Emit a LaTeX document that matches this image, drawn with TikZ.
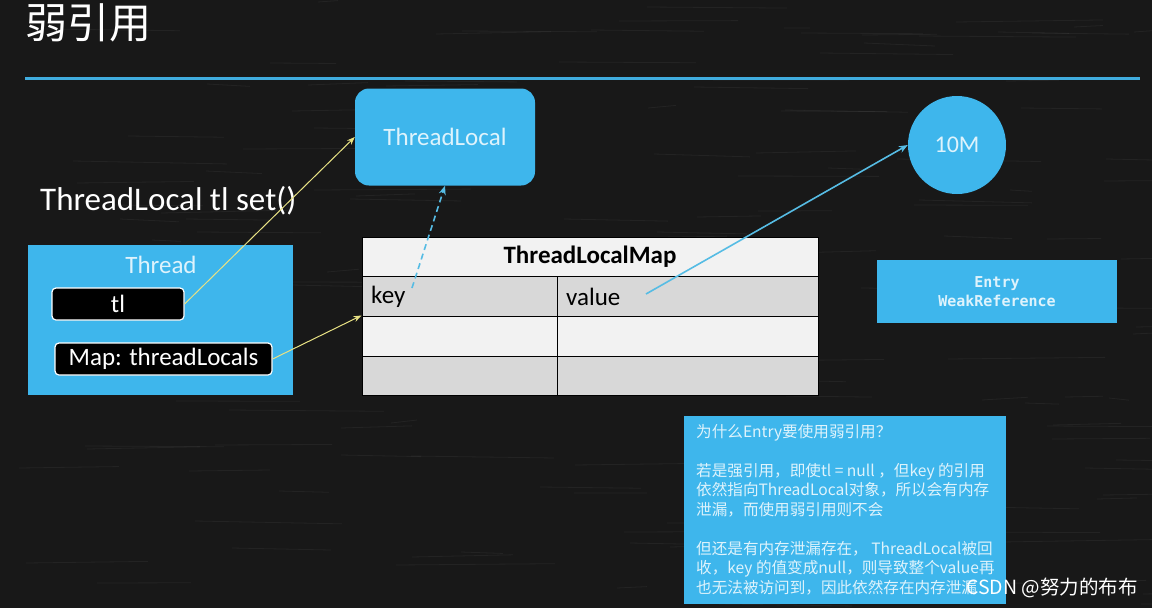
\documentclass[tikz,border=0pt]{standalone}
\usepackage{fontspec}
\setmainfont{Carlito}
\newfontfamily\cjk{Noto Sans CJK SC}
\newfontfamily\monof{DejaVu Sans Mono}
\usetikzlibrary{arrows.meta}
\definecolor{bg}{RGB}{24,24,24}
\definecolor{skyb}{RGB}{62,182,236}
\definecolor{lineb}{RGB}{64,172,222}
\definecolor{arrb}{RGB}{86,188,228}
\definecolor{yel}{RGB}{232,226,132}
\definecolor{paleT}{RGB}{222,243,252}
\definecolor{rowgray}{RGB}{216,216,216}
\definecolor{rowwhite}{RGB}{242,242,242}
\tikzset{
  bluebox/.style={fill=skyb, draw=none, inner sep=0pt},
  blackpill/.style={fill=black, draw=white, line width=1.2pt, rounded corners=4pt, inner sep=0pt, text=white, font=\fontsize{25}{28}\selectfont},
  cellg/.style={fill=rowgray, draw=black, line width=1pt, inner sep=0pt},
  cellw/.style={fill=rowwhite, draw=black, line width=1pt, inner sep=0pt},
  celltext/.style={anchor=west, inner sep=0pt, text=black, font=\fontsize{25}{28}\selectfont},
  yarrow/.style={draw=yel, line width=1pt, -{Stealth[length=8pt,width=6pt]}},
  barrow/.style={draw=arrb, line width=1.6pt, -{Stealth[length=9pt,width=7pt]}},
}
\begin{document}
\begin{tikzpicture}[x=1pt,y=-1pt]
\useasboundingbox (0,0) rectangle (1152,608);
\fill[bg] (0,0) rectangle (1152,608);
% faint chalkboard streaks
\pgfmathsetseed{7}
\foreach \i in {1,...,160}{
  \pgfmathsetmacro{\xa}{random(0,1152)}
  \pgfmathsetmacro{\ya}{random(0,608)}
  \pgfmathsetmacro{\ln}{random(20,160)}
  \draw[white, opacity=0.05, line width=0.8pt] (\xa,\ya) -- ++(\ln,{rand*3});
}
% title
\node[text=white, font=\cjk\fontsize{42}{46}\selectfont, anchor=west, inner sep=0pt] (title) at (25,23) {弱引用};
% blue rule
\draw[lineb, line width=3pt] (25,78) -- (1140,78);
% ThreadLocal box
\node[bluebox, rounded corners=14pt, minimum width=180pt, minimum height=97pt, text=paleT, font=\fontsize{25}{28}\selectfont] (tlobj) at (445,137) {ThreadLocal};
% 10M circle
\node[circle, fill=skyb, minimum size=98pt, inner sep=0pt, text=paleT, font=\fontsize{24}{27}\selectfont] (tenm) at (957,145) {10M};
% statement
\node[text=white, anchor=west, inner sep=0pt, font=\fontsize{33}{36}\selectfont] (stmt) at (40,201) {ThreadLocal tl set()};
% Thread box
\node[bluebox, minimum width=265pt, minimum height=150pt] (thread) at (160.5,320) {};
\node[text=paleT, inner sep=0pt, font=\fontsize{25}{28}\selectfont] (threadlbl) at (161,265) {Thread};
\node[blackpill, minimum width=132pt, minimum height=32pt] (tlvar) at (118,304) {tl};
\node[blackpill, minimum width=217pt, minimum height=32pt] (mapvar) at (163.5,359) {Map: threadLocals};
% ThreadLocalMap table
\node[cellw, minimum width=456pt, minimum height=39pt, font=\bfseries\fontsize{25}{28}\selectfont, text=black] (hdr) at (590,256.5) {ThreadLocalMap};
\node[cellg, minimum width=195pt, minimum height=40pt] (k1) at (459.5,296) {};
\node[cellg, minimum width=261pt, minimum height=40pt] (v1) at (687.5,296) {};
\node[cellw, minimum width=195pt, minimum height=40pt] (k2) at (459.5,336) {};
\node[cellw, minimum width=261pt, minimum height=40pt] (v2) at (687.5,336) {};
\node[cellg, minimum width=195pt, minimum height=39pt] (k3) at (459.5,375.5) {};
\node[cellg, minimum width=261pt, minimum height=39pt] (v3) at (687.5,375.5) {};
\node[celltext] (keylbl) at (371,297) {key};
\node[celltext] (vallbl) at (566,297) {value};
\coordinate (keyp) at (412,288);
\coordinate (valp) at (646,294);
% Entry WeakReference
\node[bluebox, minimum width=240pt, minimum height=63pt, text=paleT, align=center, font=\monof\bfseries\fontsize{15}{19}\selectfont] (entry) at (997,291.5) {Entry\\WeakReference};
% info box
\node[bluebox, minimum width=322pt, minimum height=188pt] (info) at (845,510) {};
\node[anchor=north west, inner sep=0pt, text=paleT, align=left, font=\cjk\fontsize{15.6}{19.5}\selectfont] (infotxt) at (696,424) {为什么Entry要使用弱引用？\\[19.5pt]若是强引用，即使tl = null ，但key 的引用\\依然指向ThreadLocal对象，所以会有内存\\泄漏，而使用弱引用则不会\\[19.5pt]但还是有内存泄漏存在， ThreadLocal被回\\收，key 的值变成null，则导致整个value再\\也无法被访问到，因此依然存在内存泄漏};
% watermark
\node[anchor=west, inner sep=0pt, text=white, font=\cjk\fontsize{19.5}{22}\selectfont] (wm) at (966,588) {CSDN @努力的布布};
% connectors
\draw[yarrow] (tlvar.east) -- (tlobj.west);
\draw[yarrow] (mapvar.east) -- (k2.north west);
\draw[barrow, dashed, dash pattern=on 6pt off 4pt] (keyp) -- (tlobj.south);
\draw[barrow] (valp) -- (tenm.west);
\end{tikzpicture}
\end{document}
